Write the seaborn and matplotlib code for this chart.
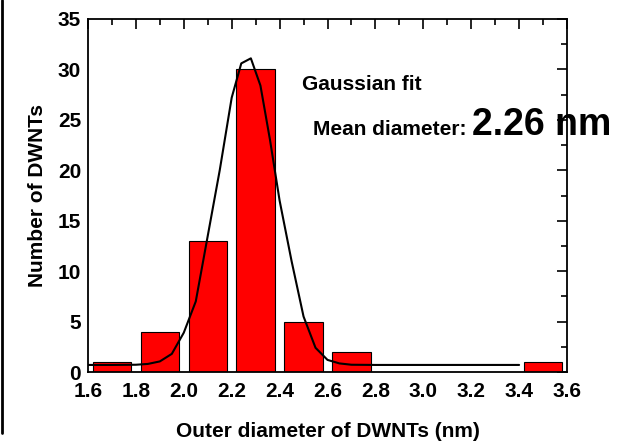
import numpy as np
import pandas as pd
import matplotlib
matplotlib.use("Agg")
import matplotlib.pyplot as plt
from matplotlib.ticker import MultipleLocator
from matplotlib.lines import Line2D
import seaborn as sns

# histogram bins (centre of each 0.2 nm bin) and counts
bin_centers = [1.7, 1.9, 2.1, 2.3, 2.5, 2.7, 2.9, 3.1, 3.3, 3.5]
counts = [1, 4, 13, 30, 5, 2, 0, 0, 0, 1]

# Gaussian fit curve
fit_x = [1.60, 1.70, 1.80, 1.85, 1.90, 1.95, 2.00, 2.05, 2.10, 2.15, 2.20, 2.24, 2.28,
         2.32, 2.36, 2.40, 2.45, 2.50, 2.55, 2.60, 2.65, 2.70, 2.80, 3.40]
fit_y = [0.70, 0.70, 0.72, 0.80, 1.05, 1.8, 3.9, 7.0, 13.5, 20.0, 27.2, 30.6, 31.1,
         28.4, 23.0, 17.0, 11.0, 5.5, 2.4, 1.2, 0.85, 0.72, 0.70, 0.70]

df = pd.DataFrame({'diameter': bin_centers, 'count': counts})

sns.set_style("white")
plt.rcParams['font.family'] = ['Liberation Sans', 'DejaVu Sans']
plt.rcParams['font.weight'] = 'bold'
plt.rcParams['text.color'] = 'black'
plt.rcParams['axes.labelcolor'] = 'black'
plt.rcParams['xtick.color'] = 'black'
plt.rcParams['ytick.color'] = 'black'

fig = plt.figure(figsize=(6.37, 4.43), dpi=100)
ax = fig.add_axes([88/637, 1-372/443, 479/637, 353/443])

sns.barplot(data=df, x='diameter', y='count', native_scale=True, width=0.8,
            color='#ff0000', edgecolor='black', linewidth=0.8, errorbar=None,
            saturation=1, ax=ax)
sns.lineplot(x=fit_x, y=fit_y, color='black', linewidth=1.5, ax=ax)

ax.set_xlim(1.6, 3.6)
ax.set_ylim(0, 35)
ax.xaxis.set_major_locator(MultipleLocator(0.2))
ax.xaxis.set_minor_locator(MultipleLocator(0.1))
ax.yaxis.set_major_locator(MultipleLocator(5))
ax.yaxis.set_minor_locator(MultipleLocator(2.5))
ax.set_xticks(np.round(np.arange(1.6, 3.61, 0.2), 1))
ax.set_xticklabels([f'{v:.1f}' for v in np.arange(1.6, 3.61, 0.2)])

ax.tick_params(which='both', direction='in', top=True, right=True, width=1.2)
ax.tick_params(which='major', length=7, labelsize=15)
ax.tick_params(axis='x', which='major', pad=7.5)
ax.tick_params(axis='y', which='major', pad=5)
ax.tick_params(which='minor', length=4)
for lab in ax.get_xticklabels() + ax.get_yticklabels():
    lab.set_fontweight('bold')
for sp in ax.spines.values():
    sp.set_visible(True)
    sp.set_linewidth(1.3)
    sp.set_color('black')

ax.set_xlabel('Outer diameter of DWNTs (nm)', fontsize=15, fontweight='bold', labelpad=15)
ax.set_ylabel('Number of DWNTs', fontsize=15, fontweight='bold', labelpad=8)

ax.text(2.492, 28.0, 'Gaussian fit', fontsize=15, fontweight='bold', va='baseline')
ax.text(2.539, 23.5, 'Mean diameter:', fontsize=15, fontweight='bold', va='baseline')
ax.text(3.202, 23.5, '2.26 nm', fontsize=27, fontweight='bold', va='baseline', clip_on=False)

# frame line on the left edge of the picture
fig.add_artist(Line2D([2/637, 2/637], [10/443, 1], color='black', linewidth=2))

fig.savefig('out.png', dpi=100)
